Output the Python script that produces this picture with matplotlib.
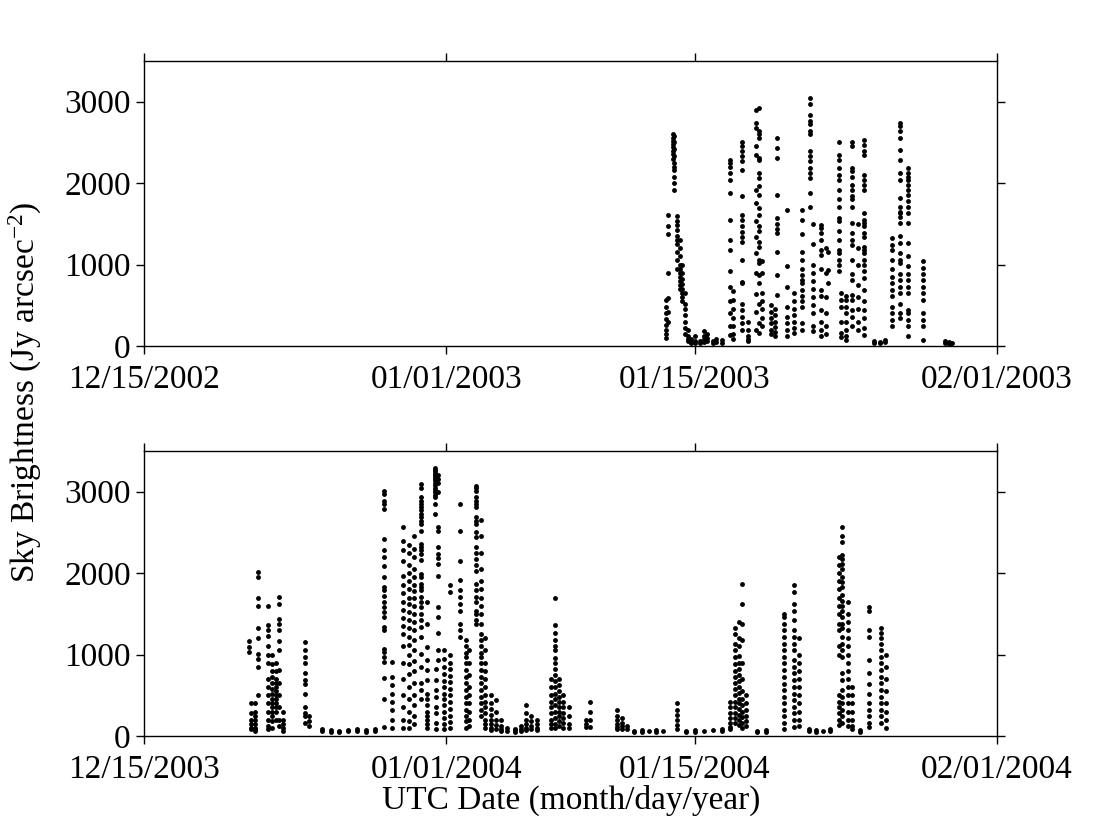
import numpy as np
import matplotlib.pyplot as plt
import matplotlib.dates as mdates
from datetime import datetime

# -- first season: days after 12/15/2002, one column of readings per time slot
days_2003 = [29.40, 29.50, 29.75, 29.85, 30.00, 30.15, 30.30, 30.45, 30.60,
             30.80, 31.00, 31.30, 31.50, 31.70, 32.00, 32.20, 32.50,
             32.95, 33.15, 33.65, 34.00, 34.45, 34.60, 34.80, 35.30, 35.50,
             35.60, 36.20, 36.55, 37.00, 37.50, 37.65, 38.10, 38.40, 38.50,
             39.10, 39.20, 39.50, 39.85, 40.20, 40.50, 41.10, 41.40, 41.70,
             42.10, 42.55, 43.00, 43.85, 45.10, 45.30, 45.45]
sky_2003 = [
    [560, 480, 400, 330, 260, 200, 150, 100],
    [1610, 1470, 1370, 900, 590, 420, 300],
    [2600, 2560, 2520, 2480, 2440, 2400, 2360, 2300],
    [2580, 2500, 2420, 2330, 2250, 2200, 2160, 2080, 2000, 1920],
    [1600, 1540, 1480, 1420, 1350, 1300, 1250, 1150, 1050, 950],
    [1300, 1200, 1100, 1000, 950, 900, 850, 800, 750, 700],
    [1000, 900, 820, 760, 700, 650, 600, 550],
    [650, 520, 450, 380, 300, 220, 150],
    [200, 120, 80, 60],
    [80, 50, 40],
    [120, 60, 40],
    [60, 40],
    [180, 120, 80, 50],
    [150, 100, 60],
    [60, 40],
    [90, 50],
    [70, 40],
    [2290, 2250, 2200, 2130, 2040, 1880, 1550, 1300, 1180, 920, 730, 550, 400, 250, 130],
    [680, 560, 450, 350, 250, 150, 90],
    [2510, 2450, 2390, 2330, 2270, 2160, 1840, 1610, 1550, 1470, 1400, 1340,
     1280, 1060, 790, 770, 520, 440, 360, 280, 200],
    [300, 200, 120, 80, 60],
    [2900, 2740, 2680, 2450, 2350, 1920, 1760, 1530, 1340, 1140, 900, 640, 420, 200],
    [2920, 2640, 2600, 2560, 2310, 2290, 2120, 2060, 1960, 1860, 1690, 1610,
     1470, 1410, 1280, 1220, 1060, 1020, 870, 770, 520, 280, 160],
    [1040, 900, 650, 550, 450, 350, 250],
    [500, 420, 340, 280, 200, 150],
    [450, 380, 300, 230, 170, 120],
    [2560, 2430, 2310, 1860, 1570, 1500, 1440, 1390, 1160, 870, 630],
    [1670, 980, 730, 480, 360, 280, 200, 120],
    [650, 550, 450, 380, 300, 220, 160],
    [1670, 1550, 1370, 1160, 1060, 940, 870, 810, 770, 690, 610, 550, 480, 280, 200],
    [3050, 2970, 2840, 2760, 2720, 2640, 2600, 2390, 2330, 2270, 2190, 2120,
     2060, 1880, 1710],
    [1500, 1250, 1000, 900, 800, 700, 600, 500, 400, 250, 180],
    [1490, 1450, 1390, 1300, 1180, 1120, 940, 690, 610, 440, 300, 200, 120],
    [1200, 900, 600, 400, 250, 150],
    [1160, 935, 770],
    [2510, 2350, 2290, 2190, 2100, 2040, 1920, 1800, 1710, 1570, 1530, 1410,
     1300, 1180, 1140, 1060, 1000, 920],
    [650, 570, 480, 300, 160, 110],
    [620, 560, 480, 400, 300, 200, 120, 70],
    [2510, 2450, 2190, 2150, 2080, 1980, 1920, 1840, 1800, 1710, 1510, 1390,
     1300, 1240, 1060, 890, 810, 630, 570, 440, 360, 240],
    [1500, 1200, 1000, 750, 600, 450, 300, 200],
    [2530, 2470, 2390, 2350, 2100, 2040, 1980, 1920, 1630, 1550, 1510, 1470,
     1390, 1340, 1220, 1180, 1140, 1060, 1000, 920, 830, 690, 550, 440, 340, 220, 140],
    [60, 40],
    [50, 40],
    [70, 50],
    [1330, 1240, 1180, 1060, 940, 850, 770, 690, 610, 480, 400, 320, 240],
    [2740, 2700, 2640, 2560, 2410, 2290, 2120, 2040, 1820, 1710, 1650, 1630,
     1590, 1510, 1350, 1260, 1140, 1060, 1020, 890, 810, 730, 650, 520, 400, 340],
    [2190, 2120, 2080, 2040, 1980, 1920, 1860, 1780, 1710, 1630, 1510, 1260,
     1100, 980, 890, 810, 730, 650, 440, 400, 320, 240, 120],
    [1040, 960, 880, 810, 730, 650, 570, 400, 320, 240, 75],
    [60, 40],
    [50, 30],
    [40],
]

# -- second season: days after 12/15/2003
days_2004 = [5.90, 6.00, 6.25, 6.40, 7.00, 7.20, 7.40, 7.60, 7.80, 9.05, 9.30,
             10.0, 10.5, 11.0, 11.5, 12.0, 12.5, 13.0, 13.50, 13.95, 14.60,
             14.90, 15.20, 15.60, 15.95, 16.35, 16.45, 16.55, 16.90, 17.20,
             17.80, 18.10, 18.30, 18.70, 18.95, 19.20, 19.50, 19.80, 20.10,
             20.40, 20.90, 21.20, 21.50, 21.80, 22.10, 22.90, 23.10, 23.35,
             23.60, 23.90, 24.85, 25.10, 26.60, 26.90, 27.20, 27.60, 28.00,
             28.40, 28.80, 29.20, 30.00, 30.50, 31.00, 31.50, 32.00, 32.50,
             33.00, 33.25, 33.50, 33.65, 33.90, 34.50, 35.00, 36.00, 36.60,
             36.85, 37.40, 37.80, 38.20, 38.60, 39.10, 39.30, 39.60, 39.85,
             40.30, 40.80, 41.50, 41.75]
sky_2004 = [
    [1160, 1090, 1030],
    [400, 280, 200, 150, 100, 80],
    [400, 300, 250, 200, 150, 100, 80, 60],
    [2010, 1950, 1690, 1600, 1320, 1200, 1010, 950, 850, 500],
    [1600, 1360, 1300, 1230, 1100, 1000, 900, 700, 600, 500, 400, 300, 200, 120, 80],
    [1000, 880, 800, 720, 650, 580, 520, 460, 400, 350, 300, 250, 180, 100],
    [900, 800, 700, 650, 600, 550, 500, 450, 400, 350, 300, 200],
    [1710, 1620, 1440, 1370, 1300, 1160, 1050, 810, 650, 500, 350, 200, 120],
    [300, 200, 150, 100, 60],
    [1150, 1050, 970, 890, 770, 690, 640, 520, 360, 280, 240, 160],
    [250, 180, 120],
    [90, 60],
    [70, 50],
    [60, 50],
    [70, 60],
    [80, 60],
    [70, 50],
    [90, 60],
    [3010, 2970, 2890, 2850, 2790, 2420, 2280, 2200, 2090, 1950, 1830, 1790,
     1720, 1650, 1580, 1520, 1460, 1340, 1300, 1070, 1030, 970, 910, 710, 460, 110],
    [910, 730, 620, 520, 420, 320, 200, 100],
    [2560, 2400, 2280, 2150, 1960, 1850, 1750, 1650, 1550, 1450, 1350, 1250,
     1100, 900, 700, 500, 350, 200, 100],
    [2350, 2250, 2100, 2000, 1900, 1800, 1700, 1620, 1520, 1420, 1330, 1220,
     1120, 1000, 880, 760, 600, 450, 300, 180, 100],
    [2450, 2300, 2200, 2050, 1950, 1850, 1780, 1700, 1600, 1500, 1400, 1300,
     1180, 1050, 920, 800, 650, 500, 380, 250, 150],
    [3090, 3050, 2930, 2890, 2850, 2810, 2770, 2730, 2690, 2640, 2600, 2520,
     2360, 2320, 2280, 2240, 2160, 1990, 1950, 1870, 1830, 1790, 1710, 1640,
     1580, 1500, 1420, 1340, 1220, 1010, 850, 650, 560, 460],
    [1640, 1380, 1090, 930, 810, 690, 520, 450, 380, 300, 250, 200, 150, 100],
    [3290, 3270, 3250, 3230, 3210, 3190, 3170, 3140, 3110, 3080, 3050, 3020,
     2990, 2960, 2930, 2850, 2730],
    [820, 690, 560, 480, 360, 280, 160, 90],
    [3200, 3150, 3100, 3000, 2560, 2520, 2320, 2240, 2180, 2110, 1970, 1580,
     1460, 1260, 1050, 930],
    [1050, 950, 850, 760, 680, 600, 520, 450, 380, 300, 220, 150, 90],
    [1850, 1770, 1000, 900, 820, 740, 660, 580, 500, 420, 330, 250, 170, 100],
    [2850, 2520, 2150, 1910, 1790, 1710, 1620, 1540, 1380, 1300, 1220],
    [1180, 1100, 1020, 970, 890, 810, 730, 650, 560, 480, 400, 320, 240, 180, 100],
    [1050, 900, 750, 600, 500, 400, 300, 200, 120],
    [3070, 3050, 3010, 2930, 2890, 2850, 2810, 2690, 2640, 2600, 2500, 2440,
     2320, 2250, 2170, 2100, 2030, 1870, 1790, 1710, 1640, 1540, 1500, 1420, 1380],
    [2650, 2450, 2250, 2050, 1900, 1800, 1700, 1600, 1500, 1380, 1250, 1180,
     1100, 1020, 970, 890, 810, 730, 650, 560, 480, 400, 320, 240],
    [1200, 1050, 900, 800, 700, 600, 500, 420, 350, 280, 200, 150, 100],
    [500, 400, 330, 260, 200, 150, 100, 70],
    [440, 300, 200, 130, 80],
    [200, 120, 80, 60],
    [100, 60],
    [90, 70, 50],
    [120, 80, 60],
    [380, 280, 200, 150, 100, 70],
    [250, 180, 120, 80],
    [200, 150, 100, 70],
    [700, 600, 500, 420, 350, 280, 200, 150, 100],
    [1700, 1360, 1260, 1180, 1100, 1050, 960, 890, 820, 750, 680, 600, 520,
     450, 380, 300, 220, 150, 100],
    [700, 620, 550, 480, 420, 360, 300, 240, 180, 120],
    [500, 420, 350, 280, 220, 160, 100],
    [350, 250, 150, 100],
    [200, 150, 110],
    [420, 300, 200, 110],
    [320, 250, 200, 150, 110, 80],
    [220, 160, 120, 80],
    [120, 80],
    [60, 50],
    [70, 50],
    [60],
    [70, 50],
    [60],
    [400, 320, 260, 200, 140, 90],
    [60, 50],
    [70, 50],
    [60],
    [70],
    [80, 60],
    [420, 350, 280, 220, 160, 110, 80],
    [1320, 1250, 1130, 1050, 970, 880, 800, 720, 650, 580, 500, 420, 350, 280, 220, 160],
    [1400, 1200, 1100, 980, 900, 820, 750, 680, 600, 530, 460, 400, 330, 260, 200, 140],
    [1870, 1620, 1380, 1180, 900, 700, 550, 450, 380, 300, 230, 160, 100],
    [500, 400, 320, 250, 180, 120],
    [60, 50],
    [70, 50],
    [1500, 1460, 1380, 1300, 1220, 1130, 1050, 970, 890, 810, 730, 640, 560,
     480, 400, 320, 240, 160, 80],
    [1850, 1770, 1620, 1540, 1420, 1300, 1220, 1130, 1050, 930, 850, 770, 690,
     600, 520, 440, 360, 280, 200, 110],
    [1200, 1000, 900, 800, 700, 600, 500, 400, 300, 200, 120],
    [80, 60],
    [70, 50],
    [60],
    [80, 60],
    [2200, 2100, 2000, 1900, 1800, 1700, 1600, 1500, 1380, 1300, 1100, 1000,
     500, 420, 350, 280, 200, 130],
    [2560, 2460, 2380, 2220, 2170, 2110, 2050, 1950, 1890, 1830, 1730, 1660,
     1600, 1540, 1460, 1380, 1320, 1220, 1130, 1050, 970, 770, 690, 560, 480,
     400, 320, 240, 160],
    [1650, 1500, 1400, 1300, 1200, 1100, 1000, 900, 800, 700, 600, 500, 400,
     300, 200, 120],
    [600, 500, 400, 300, 200, 120, 80],
    [70, 50],
    [1580, 1540, 1300, 1220, 930, 770, 640, 520, 400, 320, 240, 160, 110],
    [1320, 1260, 1200, 1130, 1050, 970, 890, 810, 730, 650, 560, 480, 400,
     320, 240, 160],
    [1000, 850, 700, 550, 400, 300, 200, 100],
]

start_2003 = datetime(2002, 12, 15)
start_2004 = datetime(2003, 12, 15)
ticks_2003 = [datetime(2002, 12, 15), datetime(2003, 1, 1), datetime(2003, 1, 15), datetime(2003, 2, 1)]
ticks_2004 = [datetime(2003, 12, 15), datetime(2004, 1, 1), datetime(2004, 1, 15), datetime(2004, 2, 1)]
y_ticks = [0, 1000, 2000, 3000]

plt.rcParams['font.family'] = ['Liberation Serif', 'DejaVu Serif']
plt.rcParams['mathtext.fontset'] = 'custom'
plt.rcParams['mathtext.rm'] = 'Liberation Serif'
plt.rcParams['mathtext.it'] = 'Liberation Serif:italic'


def flatten(start, days, cols):
    t0 = mdates.date2num(start)
    xs, ys = [], []
    for d, vals in zip(days, cols):
        xs += [t0 + d] * len(vals)
        ys += vals
    return np.array(xs), np.array(ys)


fig = plt.figure(figsize=(11.02, 8.26), dpi=100)
ax1 = fig.add_axes([0.1307, 0.5811, 0.774, 0.3451])
ax2 = fig.add_axes([0.1307, 0.1090, 0.774, 0.3451])

for ax, start, days, cols, ticks in [(ax1, start_2003, days_2003, sky_2003, ticks_2003),
                                     (ax2, start_2004, days_2004, sky_2004, ticks_2004)]:
    x, y = flatten(start, days, cols)
    ax.plot(x, y, 'o', color='black', ms=3.5, mew=0, linestyle='none')
    ax.set_xlim(mdates.date2num(ticks[0]), mdates.date2num(ticks[-1]))
    ax.set_ylim(0, 3500)
    ax.set_xticks([mdates.date2num(t) for t in ticks])
    ax.xaxis.set_major_formatter(mdates.DateFormatter('%m/%d/%Y'))
    ax.set_yticks(y_ticks)
    ax.tick_params(direction='out', length=5.5, width=1, top=True, right=True,
                   labelsize=24)
    ax.tick_params(axis='x', pad=8)
    ax.tick_params(axis='y', pad=4)
    for sp in ax.spines.values():
        sp.set_linewidth(1.0)

fig.text(0.023, 0.525, r'Sky Brightness (Jy arcsec$^{-2}$)', rotation=90,
         ha='center', va='center', fontsize=24)
fig.text(0.518, 0.031, 'UTC Date (month/day/year)', ha='center', va='center',
         fontsize=24)

fig.savefig('out.png', dpi=100)
